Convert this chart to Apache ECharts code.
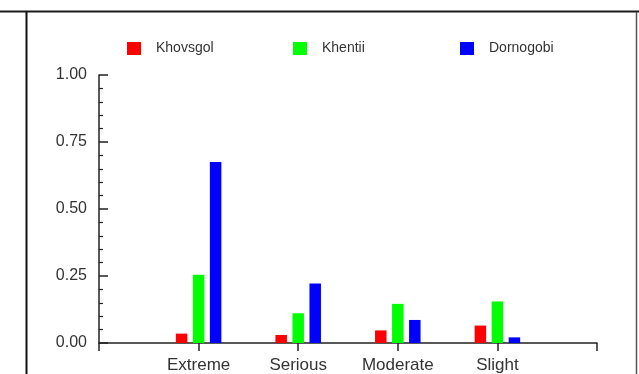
<!DOCTYPE html>
<html>
<head>
<meta charset="utf-8">
<script src="https://cdn.jsdelivr.net/npm/echarts@6/dist/echarts.min.js"></script>
<style>
  html, body { margin: 0; padding: 0; background: #fff; }
  #chart { width: 639px; height: 374px; }
</style>
</head>
<body>
<div id="chart"></div>
<script>
// Severity categories and share of respondents per province
const categories = ['Extreme', 'Serious', 'Moderate', 'Slight'];
const khovsgol = [0.035, 0.030, 0.047, 0.065];
const khentii = [0.255, 0.111, 0.146, 0.155];
const dornogobi = [0.675, 0.222, 0.086, 0.021];
const yTicks = [0, 0.25, 0.5, 0.75, 1];

const seriesDefs = [
  { name: 'Khovsgol', data: khovsgol, color: '#ff0000' },
  { name: 'Khentii', data: khentii, color: '#00ff00' },
  { name: 'Dornogobi', data: dornogobi, color: '#0000ff' }
];

// pad the axis with empty slots at both ends so categories sit at 1..4 of 0..5
const axisCats = [''].concat(categories, ['']);
const pad = v => [null].concat(v, [null]);

const font = 'Liberation Sans, Arial, Helvetica, sans-serif';
const chart = echarts.init(document.getElementById('chart'), null, { renderer: 'canvas' });

const legendLefts = [127, 293, 460];

chart.setOption({
  animation: false,
  backgroundColor: '#ffffff',
  grid: { left: 99, right: 42, top: 75, bottom: 29.5 },
  legend: seriesDefs.map((s, i) => ({
    data: [s.name],
    left: legendLefts[i],
    top: 41.5,
    padding: 0,
    itemWidth: 14,
    itemHeight: 13,
    icon: 'rect',
    textStyle: { color: '#333', fontSize: 14, fontFamily: font, padding: [0, 0, 0, 10] }
  })),
  xAxis: {
    type: 'category',
    data: axisCats,
    boundaryGap: false,
    axisLine: { lineStyle: { color: '#222', width: 1.5 } },
    axisTick: { show: true, interval: 0, length: 8, lineStyle: { color: '#222', width: 1.5 } },
    axisLabel: { interval: 0, color: '#333', fontSize: 17, fontFamily: font, margin: 14 },
    splitLine: { show: false }
  },
  yAxis: {
    type: 'value',
    min: yTicks[0],
    max: yTicks[yTicks.length - 1],
    interval: 0.25,
    axisLine: { show: true, lineStyle: { color: '#222', width: 1.5 } },
    axisTick: { show: true, inside: true, length: 9, lineStyle: { color: '#222', width: 1.5 } },
    minorTick: { show: true, splitNumber: 5, length: 4, lineStyle: { color: '#222', width: 1.2 } },
    axisLabel: { color: '#333', fontSize: 16, fontFamily: font, margin: 12,
      formatter: v => v.toFixed(2) },
    splitLine: { show: false }
  },
  series: seriesDefs.map(s => ({
    name: s.name,
    type: 'bar',
    data: pad(s.data),
    barWidth: 11.5,
    barGap: '48%',
    itemStyle: { color: s.color }
  })),
  graphic: [
    { type: 'line', shape: { x1: 0, y1: 11.5, x2: 639, y2: 11.5 }, style: { stroke: '#1a1a1a', lineWidth: 2 } },
    { type: 'line', shape: { x1: 26.5, y1: 12, x2: 26.5, y2: 374 }, style: { stroke: '#111', lineWidth: 2 } },
    { type: 'line', shape: { x1: 636.5, y1: 12, x2: 636.5, y2: 374 }, style: { stroke: '#555', lineWidth: 1.5 } }
  ]
});
</script>
</body>
</html>
